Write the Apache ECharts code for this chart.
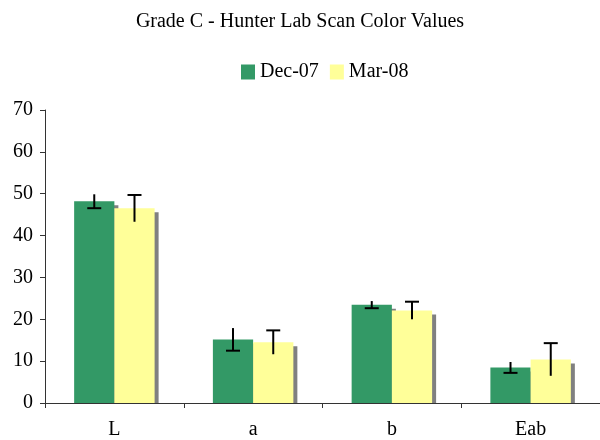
<!DOCTYPE html>
<html>
<head>
<meta charset="utf-8">
<script src="https://cdn.jsdelivr.net/npm/echarts@6/dist/echarts.min.js"></script>
<style>
  html, body { margin: 0; padding: 0; background: #fff; }
  #chart { width: 600px; height: 440px; }
</style>
</head>
<body>
<div id="chart"></div>
<script>
// Hunter Lab colour scan values, Grade C
const categories = ['L', 'a', 'b', 'Eab'];
const seriesNames = ['Dec-07', 'Mar-08'];
const dec07 = [48.2, 15.2, 23.5, 8.5];
const dec07Err = [1.66, 2.7, 0.85, 1.3];
const mar08 = [46.5, 14.5, 22.1, 10.4];
const mar08Err = [3.2, 2.85, 2.1, 3.9];
const yTicks = [0, 10, 20, 30, 40, 50, 60, 70];

const FONT = '"Liberation Serif", "Times New Roman", serif';
const GREEN = '#339966';
const YELLOW = '#FFFF99';
const SHADOW = '#808080';
const CAT_GAP = 0.42;
const SHADOW_DX = 4;
const SHADOW_DY = 4;

function barWidthOf(api) {
  return api.size([1, 0])[0] * (1 - CAT_GAP) / 2;
}

// Error bar: vertical line through value ± err, cap at one end
function errorBars(side, capAtTop) {
  return function (params, api) {
    const i = api.value(0);
    const v = api.value(1);
    const e = api.value(2);
    const barW = barWidthOf(api);
    const hi = api.coord([i, v + e]);
    const lo = api.coord([i, v - e]);
    const x = hi[0] + side * barW / 2;
    const capY = capAtTop ? hi[1] : lo[1];
    const style = { stroke: '#000', lineWidth: 2 };
    return {
      type: 'group',
      children: [
        { type: 'line', shape: { x1: x, y1: hi[1], x2: x, y2: lo[1] }, style: style },
        { type: 'line', shape: { x1: x - 7, y1: capY, x2: x + 7, y2: capY }, style: style }
      ]
    };
  };
}

// Drop shadow behind a bar, offset right/down and stopped at the x axis
function barShadow(side) {
  return function (params, api) {
    const i = api.value(0);
    const v = api.value(1);
    const barW = barWidthOf(api);
    const top = api.coord([i, v]);
    const base = api.coord([i, 0]);
    const left = top[0] + (side < 0 ? -barW : 0) + SHADOW_DX;
    return {
      type: 'rect',
      shape: { x: left, y: top[1] + SHADOW_DY, width: barW, height: base[1] - top[1] - SHADOW_DY },
      style: { fill: SHADOW }
    };
  };
}

const chart = echarts.init(document.getElementById('chart'));
chart.setOption({
  animation: false,
  backgroundColor: '#fff',
  title: {
    text: 'Grade C - Hunter Lab Scan Color Values',
    left: 'center',
    top: 7,
    textStyle: { fontFamily: FONT, fontSize: 20, fontWeight: 'normal', color: '#000' }
  },
  legend: {
    data: seriesNames,
    top: 57,
    left: 236,
    itemWidth: 14,
    itemHeight: 15,
    itemGap: 11,
    icon: 'rect',
    textStyle: { fontFamily: FONT, fontSize: 20, color: '#000' }
  },
  grid: { left: 45, right: -5, top: 110, bottom: 34.5, containLabel: false },
  xAxis: {
    type: 'category',
    data: categories,
    axisLine: { lineStyle: { color: '#333', width: 1 } },
    axisTick: { show: true, length: 5, inside: false, lineStyle: { color: '#333' } },
    axisLabel: { fontFamily: FONT, fontSize: 20, color: '#000', margin: 17 }
  },
  yAxis: {
    type: 'value',
    min: yTicks[0],
    max: yTicks[yTicks.length - 1],
    interval: 10,
    splitLine: { show: false },
    axisLine: { show: true, lineStyle: { color: '#333', width: 1 } },
    axisTick: { show: true, length: 5, lineStyle: { color: '#333' } },
    axisLabel: { fontFamily: FONT, fontSize: 20, color: '#000', margin: 12 }
  },
  series: [
    {
      type: 'custom',
      name: seriesNames[0] + ' shadow',
      renderItem: barShadow(-1),
      data: dec07.map((v, i) => [i, v]),
      encode: { x: 0, y: 1 },
      z: 1
    },
    {
      type: 'custom',
      name: seriesNames[1] + ' shadow',
      renderItem: barShadow(1),
      data: mar08.map((v, i) => [i, v]),
      encode: { x: 0, y: 1 },
      z: 1
    },
    {
      name: seriesNames[0],
      type: 'bar',
      data: dec07,
      barGap: '0%',
      barCategoryGap: (CAT_GAP * 100) + '%',
      itemStyle: { color: GREEN },
      z: 2
    },
    {
      name: seriesNames[1],
      type: 'bar',
      data: mar08,
      barGap: '0%',
      barCategoryGap: (CAT_GAP * 100) + '%',
      itemStyle: { color: YELLOW },
      z: 2
    },
    {
      type: 'custom',
      name: seriesNames[0] + ' error',
      renderItem: errorBars(-1, false),
      data: dec07.map((v, i) => [i, v, dec07Err[i]]),
      encode: { x: 0, y: 1 },
      z: 5
    },
    {
      type: 'custom',
      name: seriesNames[1] + ' error',
      renderItem: errorBars(1, true),
      data: mar08.map((v, i) => [i, v, mar08Err[i]]),
      encode: { x: 0, y: 1 },
      z: 5
    }
  ]
});
</script>
</body>
</html>
